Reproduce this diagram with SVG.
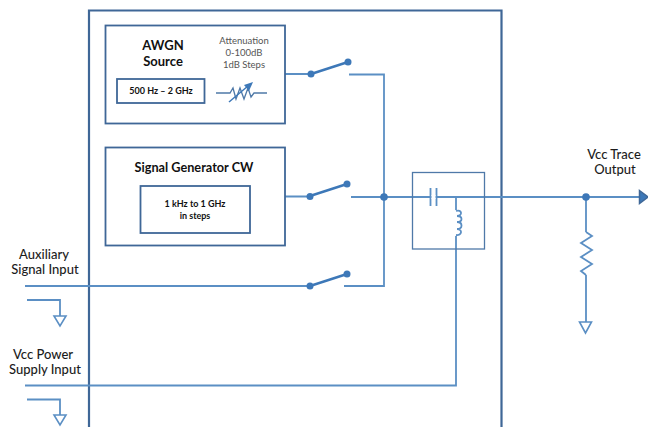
<svg xmlns="http://www.w3.org/2000/svg" width="648" height="427" viewBox="0 0 648 427">
<defs>
<style>
text{font-family:Lato,"Liberation Sans",Arial,sans-serif;fill:#1c1c1c;text-anchor:middle}
.b{font-weight:700;fill:#111}
.l{font-weight:500;font-size:13px}
.a{fill:#555;font-size:9.500px}
.w{fill:none;stroke:#5b8fc4;stroke-width:1.800}
.box{fill:#fff;stroke:#3f6797;stroke-width:1.800}
.thin{fill:none;stroke:#4f79a8;stroke-width:1.300}
.blade{fill:none;stroke:#3d78b8;stroke-width:2.400}
.dot{fill:#3d78b8}
.gnd{fill:#fff;stroke:#5b8fc4;stroke-width:1.600}
</style>
</defs>
<rect width="648" height="427" fill="#fff"/>
<g id="enclosure"><path d="M89 440V10.500H501.500V440" fill="none" stroke="#3f6797" stroke-width="2.200"/></g>
<g id="connectors">
<path class="w" d="M285 74H311M349 74.500H384V286H344M285 196.500H310M351 197H640M25 286H310"/>
<path class="w" d="M456 197V210M456 236V385.500H25"/>
<path class="w" d="M586 197V232M586 275V322"/>
<path class="w" d="M27 300H60V316M27 399.500H60V415"/>
</g>
<g id="awgn-source">
<rect class="box" x="105.500" y="25.500" width="179.500" height="98"/>
<text class="b" x="163" y="50" font-size="13">AWGN</text>
<text class="b" x="163" y="66" font-size="13">Source</text>
<text class="a" x="244" y="44">Attenuation</text>
<text class="a" x="244" y="56">0-100dB</text>
<text class="a" x="244" y="68">1dB Steps</text>
<rect class="box" x="117" y="79" width="87.500" height="24"/>
<text class="b" x="161" y="94" font-size="9">500 Hz – 2 GHz</text>
<path class="thin" d="M216 93H230L233 88L236 99L240 88L244 99L248 88L251 97L254 93H267"/>
<path class="blade" d="M229 102L248 86" style="stroke-width:1.500"/>
<path class="dot" d="M253 82L249 91L244 85Z"/>
</g>
<g id="signal-generator">
<rect class="box" x="105.500" y="147.500" width="179.500" height="98"/>
<text class="b" x="194" y="172" font-size="12.700">Signal Generator CW</text>
<rect class="box" x="140.500" y="186" width="109.500" height="47"/>
<text class="b" x="195" y="207" font-size="9">1 kHz to 1 GHz</text>
<text class="b" x="195" y="219" font-size="9">in steps</text>
</g>
<g id="switch-1">
<path class="blade" d="M311 74L348 62"/><circle class="dot" cx="311" cy="74" r="3.500"/><circle class="dot" cx="348" cy="62" r="3.500"/>
</g>
<g id="switch-2">
<path class="blade" d="M310 196L347 184"/><circle class="dot" cx="310" cy="196.500" r="3.500"/><circle class="dot" cx="347" cy="184" r="3.500"/>
</g>
<g id="switch-3">
<path class="blade" d="M310 286L347 274"/><circle class="dot" cx="310" cy="286" r="3.500"/><circle class="dot" cx="347" cy="274" r="3.500"/>
</g>
<g id="junction-1"><circle class="dot" cx="384" cy="197" r="3.800"/></g>
<g id="bias-tee">
<rect x="412.500" y="172.500" width="72" height="76.500" fill="none" stroke="#4f79a8" stroke-width="1.300"/>
<path d="M430.500 188V206M436.500 188V206" fill="none" stroke="#5b8fc4" stroke-width="1.800"/>
<rect x="431.500" y="195" width="4" height="4" fill="#fff"/>
<path class="w" d="M456 211C462 209 463 216 457 216C463 216 463 222 457 222C463 222 463 229 457 229C463 229 462 236 456 235"/>
</g>
<g id="load">
<circle class="dot" cx="586" cy="197" r="3.800"/>
<path class="w" d="M586 232L592 236L581 243L592 250L581 257L592 264L581 271L586 275"/>
<path class="gnd" d="M579.500 322H591.500L585.500 333Z"/>
</g>
<g id="output">
<path d="M639.500 190.500L648 197L639.500 203.500Z" fill="#3d78b8" stroke="#3f6797" stroke-width="1.500"/>
<text class="l" x="614" y="159">Vcc Trace</text>
<text class="l" x="615" y="174">Output</text>
</g>
<g id="aux-input">
<text class="l" x="44" y="259">Auxiliary</text>
<text class="l" x="45" y="274">Signal Input</text>
<path class="gnd" d="M54 316H66L60 326Z"/>
</g>
<g id="vcc-input">
<text class="l" x="43" y="359">Vcc Power</text>
<text class="l" x="45" y="374">Supply Input</text>
<path class="gnd" d="M54 415H66L60 425Z"/>
</g>
</svg>
